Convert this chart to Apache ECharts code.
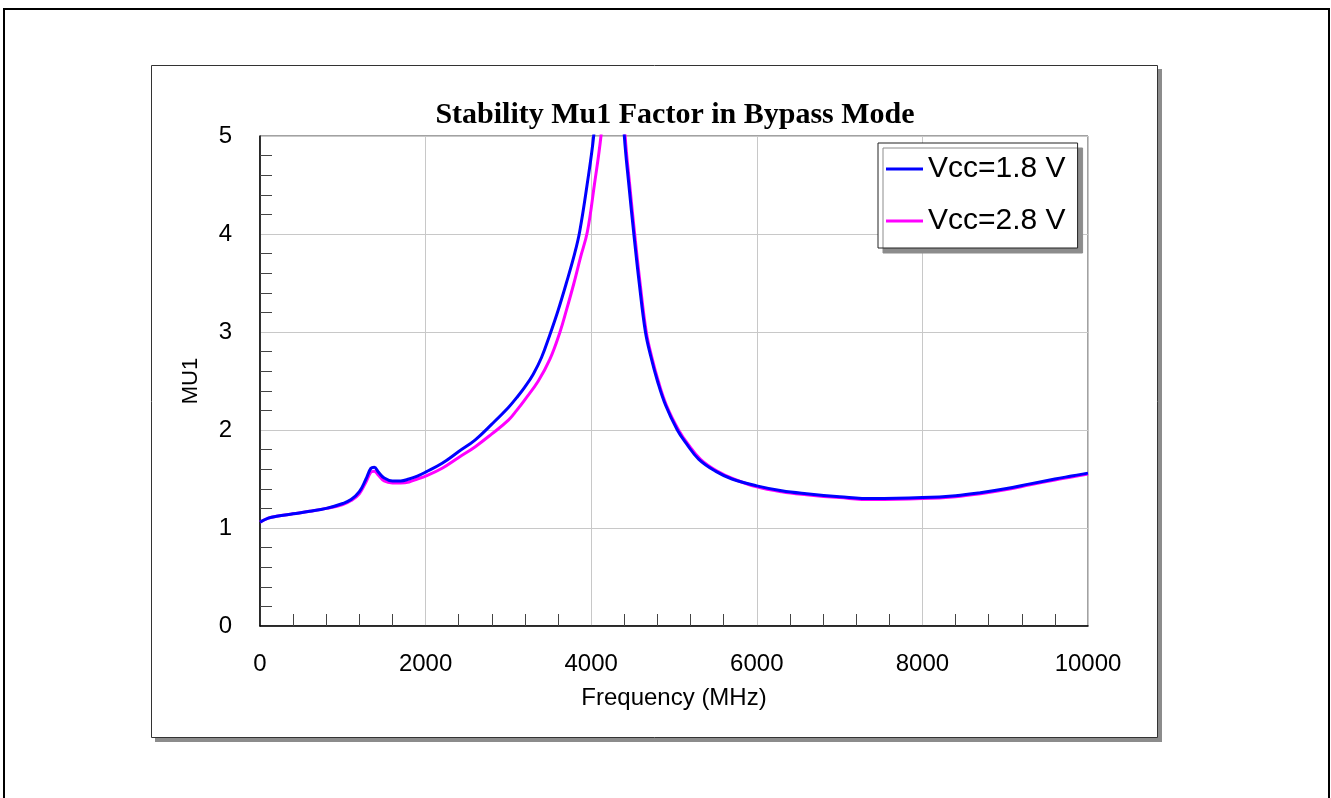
<!DOCTYPE html>
<html>
<head>
<meta charset="utf-8">
<script src="https://cdn.jsdelivr.net/npm/echarts@6/dist/echarts.min.js"></script>
<style>
html,body{margin:0;padding:0;background:#fff;}
#chart{width:1331px;height:798px;}
</style>
</head>
<body>
<div id="chart"></div>
<script>
var titleText = 'Stability Mu1 Factor in Bypass Mode';
var seriesNames = ['Vcc=1.8 V', 'Vcc=2.8 V'];
var xTicks = [0, 2000, 4000, 6000, 8000, 10000];
var yTicks = [0, 1, 2, 3, 4, 5];

var freqBlue = [0, 100, 200, 400, 600, 800, 1000, 1100, 1200, 1280, 1340, 1380, 1430, 1500, 1600, 1700, 1800, 1900, 2000, 2200, 2400, 2600, 2800, 3000, 3100, 3200, 3300, 3400, 3500, 3600, 3700, 3800, 3860, 3950, 4030, 4100, 4170, 4230, 4300, 4350, 4400, 4455, 4515, 4580, 4655, 4720, 4800, 4900, 5040, 5150, 5300, 5500, 5700, 6000, 6300, 6600, 7000, 7400, 8000, 8400, 8700, 9000, 9300, 9600, 9800, 10000];
var mu1Blue = [1.06, 1.10, 1.12, 1.145, 1.17, 1.20, 1.25, 1.29, 1.37, 1.50, 1.61, 1.62, 1.57, 1.51, 1.48, 1.48, 1.50, 1.53, 1.57, 1.66, 1.78, 1.90, 2.06, 2.23, 2.33, 2.44, 2.57, 2.74, 2.97, 3.22, 3.5, 3.8, 4.02, 4.5, 5.0, 5.7, 6.6, 7.2, 6.6, 5.8, 5.0, 4.5, 4.0, 3.5, 3.0, 2.75, 2.5, 2.25, 2.0, 1.86, 1.70, 1.58, 1.50, 1.43, 1.38, 1.35, 1.32, 1.30, 1.31, 1.33, 1.36, 1.40, 1.45, 1.50, 1.53, 1.56];

var freqMag = [0, 100, 200, 400, 600, 800, 1000, 1100, 1200, 1280, 1340, 1380, 1430, 1500, 1600, 1700, 1800, 1900, 2000, 2200, 2400, 2600, 2800, 3000, 3100, 3200, 3361, 3500, 3623, 3700, 3792, 3870, 3953, 4038, 4118, 4180, 4240, 4300, 4360, 4410, 4465, 4525, 4590, 4665, 4730, 4810, 4910, 5055, 5165, 5320, 5520, 5720, 6000, 6300, 6600, 7000, 7400, 8000, 8400, 8700, 9000, 9300, 9600, 9800, 10000];
var mu1Mag = [1.06, 1.10, 1.12, 1.145, 1.17, 1.20, 1.24, 1.28, 1.35, 1.47, 1.57, 1.58, 1.54, 1.48, 1.46, 1.46, 1.47, 1.50, 1.53, 1.61, 1.72, 1.83, 1.96, 2.10, 2.20, 2.31, 2.5, 2.72, 3.0, 3.22, 3.5, 3.76, 4.02, 4.5, 5.0, 5.6, 6.2, 6.3, 5.8, 5.0, 4.5, 4.0, 3.5, 3.0, 2.75, 2.5, 2.25, 2.0, 1.86, 1.70, 1.58, 1.50, 1.42, 1.37, 1.34, 1.31, 1.29, 1.30, 1.32, 1.35, 1.39, 1.44, 1.49, 1.52, 1.55];

function pairs(xs, ys) {
  var out = [];
  for (var i = 0; i < xs.length; i++) out.push([xs[i], ys[i]]);
  return out;
}

var chart = echarts.init(document.getElementById('chart'), null, {renderer: 'canvas'});
var font = 'Arial, "Liberation Sans", sans-serif';

var option = {
  animation: false,
  backgroundColor: '#ffffff',
  graphic: [
    {type: 'rect', z: -10, silent: true, shape: {x: 4, y: 9, width: 1325, height: 900}, style: {fill: 'none', stroke: '#000', lineWidth: 2}},
    {type: 'rect', z: -9, silent: true, shape: {x: 155, y: 69, width: 1007, height: 673}, style: {fill: '#8c8c8c'}},
    {type: 'rect', z: -8, silent: true, shape: {x: 151.5, y: 65.5, width: 1006, height: 672}, style: {fill: '#fff', stroke: '#333', lineWidth: 1}}
  ],
  title: {
    text: titleText,
    left: 670,
    top: 95,
    textAlign: 'center',
    textStyle: {fontFamily: '"Liberation Serif", "Times New Roman", serif', fontWeight: 'bold', fontSize: 30, color: '#000'}
  },
  grid: {
    left: 260, top: 136, right: 243, bottom: 172,
    show: true, borderColor: '#444', borderWidth: 1, backgroundColor: 'transparent',
    containLabel: false
  },
  legend: {
    orient: 'vertical',
    left: 878,
    top: 143,
    padding: [10, 12, 11, 8],
    itemGap: 20,
    itemWidth: 37,
    itemHeight: 3,
    icon: 'rect',
    backgroundColor: '#fff',
    borderColor: '#222',
    borderWidth: 1,
    shadowColor: '#8c8c8c',
    shadowBlur: 0,
    shadowOffsetX: 5,
    shadowOffsetY: 5,
    textStyle: {fontFamily: font, fontSize: 30, color: '#000', lineHeight: 32},
    data: seriesNames
  },
  xAxis: {
    type: 'value',
    min: xTicks[0],
    max: xTicks[xTicks.length - 1],
    interval: 2000,
    name: 'Frequency (MHz)',
    nameLocation: 'middle',
    nameGap: 60,
    nameTextStyle: {fontFamily: font, fontSize: 24, color: '#000'},
    axisLine: {show: true, onZero: false, lineStyle: {color: '#000', width: 1.5}},
    axisTick: {show: false, inside: true},
    minorTick: {show: true, splitNumber: 5, length: 12, lineStyle: {color: '#444', width: 1}},
    axisLabel: {margin: 26, fontFamily: font, fontSize: 24, color: '#000', formatter: function (v) { return String(v); }},
    splitLine: {show: true, lineStyle: {color: '#c8c8c8', width: 1}},
    minorSplitLine: {show: false}
  },
  yAxis: {
    type: 'value',
    min: yTicks[0],
    max: yTicks[yTicks.length - 1],
    interval: 1,
    name: 'MU1',
    nameLocation: 'middle',
    nameGap: 58,
    nameRotate: 90,
    nameTextStyle: {fontFamily: font, fontSize: 22, color: '#000'},
    axisLine: {show: true, onZero: false, lineStyle: {color: '#000', width: 1.5}},
    axisTick: {show: false, inside: true},
    minorTick: {show: true, splitNumber: 5, length: 12, lineStyle: {color: '#444', width: 1}},
    axisLabel: {margin: 28, fontFamily: font, fontSize: 24, color: '#000', formatter: function (v) { return String(v); }},
    splitLine: {show: true, lineStyle: {color: '#c8c8c8', width: 1}},
    minorSplitLine: {show: false}
  },
  series: [
    {
      name: seriesNames[0],
      type: 'line',
      z: 4,
      data: pairs(freqBlue, mu1Blue),
      showSymbol: false,
      symbol: 'none',
      smooth: 0.4,
      clip: true,
      itemStyle: {color: '#0000ff'},
      lineStyle: {color: '#0000ff', width: 3}
    },
    {
      name: seriesNames[1],
      type: 'line',
      z: 3,
      data: pairs(freqMag, mu1Mag),
      showSymbol: false,
      symbol: 'none',
      smooth: 0.4,
      clip: true,
      itemStyle: {color: '#ff00ff'},
      lineStyle: {color: '#ff00ff', width: 3}
    }
  ]
};
chart.setOption(option);
</script>
</body>
</html>
